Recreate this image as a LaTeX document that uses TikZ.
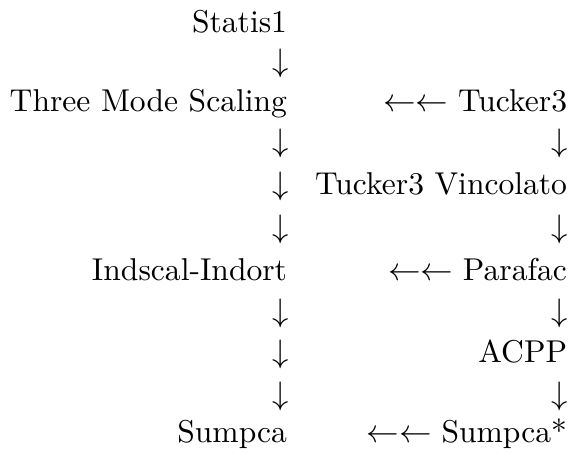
\documentclass[tikz,border=0pt]{standalone}
\begin{document}
\begin{tikzpicture}[x=0.3072pt,y=-0.3072pt,
  lbl/.style={inner sep=0pt,outer sep=0pt,anchor=base east,font=\fontsize{9.7}{12}\selectfont},
  darr/.style={lbl},
  larr/.style={lbl}]
\useasboundingbox (0,0) rectangle (570,457);
% left column (right edge x=287)
\node[lbl]  (statis) at (287,32)  {Statis1};
\node[darr] (la1)    at (289,71)  {$\downarrow$};
\node[lbl]  (tms)    at (287,111) {Three Mode Scaling};
\node[darr] (la2)    at (289,151) {$\downarrow$};
\node[darr] (la3)    at (289,194) {$\downarrow$};
\node[darr] (la4)    at (289,237) {$\downarrow$};
\node[lbl]  (indscal) at (287,280) {Indscal-Indort};
\node[darr] (la5)    at (289,321) {$\downarrow$};
\node[darr] (la6)    at (289,362) {$\downarrow$};
\node[darr] (la7)    at (289,404) {$\downarrow$};
\node[lbl]  (sumpca) at (287,442) {Sumpca};
% right column (right edge x=567)
\node[lbl]  (tucker) at (567,111) {Tucker3};
\node[larr] (ll1)    at (tucker.base west) [xshift=-3pt] {$\leftarrow\leftarrow$};
\node[darr] (ra1)    at (568,151) {$\downarrow$};
\node[lbl]  (tvinc)  at (567,194) {Tucker3 Vincolato};
\node[darr] (ra2)    at (568,237) {$\downarrow$};
\node[lbl]  (parafac) at (567,280) {Parafac};
\node[larr] (ll2)    at (parafac.base west) [xshift=-3pt] {$\leftarrow\leftarrow$};
\node[darr] (ra3)    at (568,321) {$\downarrow$};
\node[lbl]  (acpp)   at (567,362) {ACPP};
\node[darr] (ra4)    at (568,404) {$\downarrow$};
\node[lbl]  (sumpcas) at (567,442) {Sumpca*};
\node[larr] (ll3)    at (sumpcas.base west) [xshift=-3pt] {$\leftarrow\leftarrow$};
\end{tikzpicture}
\end{document}
